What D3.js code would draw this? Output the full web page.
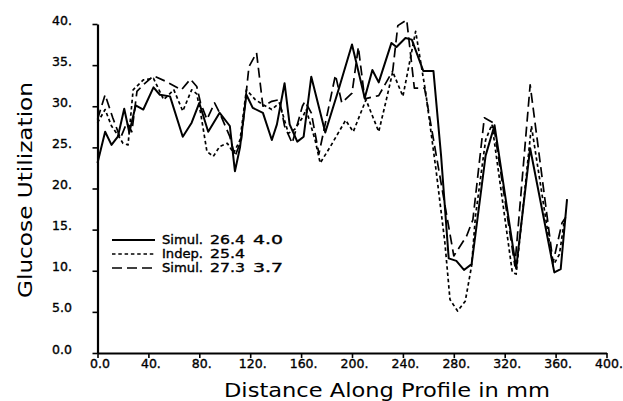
<!DOCTYPE html>
<html>
<head>
<meta charset="utf-8">
<script src="https://cdn.jsdelivr.net/npm/d3@7"></script>
<style>
  html, body { margin: 0; padding: 0; background: #fff; }
  svg { display: block; }
  text { font-family: "DejaVu Sans", sans-serif; fill: #000; }
</style>
</head>
<body>
<svg id="chart" width="623" height="401"></svg>
<script>
// ---- data ----
const xTicks = [0, 40, 80, 120, 160, 200, 240, 280, 320, 360, 400];
const xTickLabels = ["0.0", "40.", "80.", "120.", "160.", "200.", "240.", "280.", "320.", "360.", "400."];
const yTicks = [0, 5, 10, 15, 20, 25, 30, 35, 40];
const yTickLabels = ["0.0", "5.0", "10.", "15.", "20.", "25.", "30.", "35.", "40."];

const seriesNames = [["Simul.", "26.4", "4.0"], ["Indep.", "25.4"], ["Simul.", "27.3", "3.7"]];

// Simul. 26.4 4.0 (solid)
const simulAx = [0, 6, 11, 16, 21, 25, 30, 36, 44, 49, 57, 67, 74, 80, 87, 96, 104, 108, 112, 117, 122, 130, 137, 141, 147, 151, 157, 162, 168, 179, 189, 200, 210, 216, 221, 231, 235, 242, 247, 256, 264, 270, 276, 282, 288, 294, 305, 312, 329, 340, 359, 364, 369];
const simulAy = [23.1, 26.9, 25.3, 26.3, 29.7, 26.8, 30.1, 29.6, 32.3, 31.4, 31.2, 26.3, 28.0, 30.4, 26.9, 29.2, 27.6, 22.1, 25.0, 31.4, 29.8, 29.2, 25.9, 27.8, 32.8, 27.8, 25.7, 26.3, 33.6, 26.8, 31.8, 37.5, 31.0, 34.4, 32.9, 37.7, 37.2, 38.3, 38.1, 34.3, 34.3, 24.0, 11.5, 11.2, 10.1, 10.8, 24.0, 27.7, 10.3, 24.9, 9.8, 10.2, 18.7];

// Indep. 25.4 (dotted)
const indepX = [0, 6, 11, 16, 20, 24, 28, 36, 44, 52, 60, 67, 74, 78, 81, 86, 91, 96, 102, 107, 112, 117, 124, 130, 137, 143, 150, 155, 161, 164, 171, 175, 183, 195, 201, 211, 221, 227, 232, 240, 250, 258, 266, 273, 277, 283, 289, 294, 297, 305, 310, 326, 329, 341, 358, 363, 367];
const indepY = [28.0, 29.6, 27.6, 26.5, 25.5, 25.3, 32.0, 33.2, 33.4, 30.8, 32.0, 29.4, 32.0, 31.5, 29.2, 24.5, 23.9, 25.1, 25.5, 24.3, 25.9, 32.0, 30.8, 30.2, 29.6, 30.4, 26.7, 27.2, 28.6, 29.6, 25.9, 23.1, 25.1, 28.3, 26.9, 30.8, 26.9, 30.8, 34.2, 31.2, 39.1, 31.6, 22.3, 13.4, 6.5, 5.1, 6.3, 10.6, 16.6, 25.9, 27.8, 9.8, 9.6, 27.6, 10.6, 12.0, 16.2];

// Simul. 27.3 3.7 (dashed)
const simulBx = [0, 6, 12, 18, 23, 27, 31, 36, 44, 54, 66, 73, 78, 81, 86, 92, 96, 104, 108, 113, 119, 125, 130, 137, 143, 147, 153, 161, 163, 168, 174, 187, 192, 200, 205, 210, 221, 232, 236, 243, 249, 257, 280, 290, 295, 304, 311, 328, 340, 358, 365, 368];
const simulBy = [28.4, 31.4, 28.6, 26.1, 28.0, 26.9, 31.8, 32.6, 33.7, 33.0, 32.0, 33.3, 32.4, 30.4, 28.4, 30.4, 29.2, 26.3, 23.9, 25.9, 34.8, 36.5, 30.0, 30.6, 30.8, 27.6, 25.5, 30.0, 30.6, 29.2, 24.2, 33.8, 30.4, 31.6, 37.2, 30.9, 31.3, 34.3, 39.8, 40.5, 32.2, 32.2, 11.8, 14.2, 16.2, 28.6, 28.0, 10.6, 32.6, 11.0, 15.8, 16.5];

const series = [
  { name: seriesNames[0], xs: simulAx, ys: simulAy, dash: null, width: 2 },
  { name: seriesNames[1], xs: indepX, ys: indepY, dash: "3.5,2.8", width: 1.7 },
  { name: seriesNames[2], xs: simulBx, ys: simulBy, dash: "10,5", width: 1.7 }
];

// ---- layout ----
const svg = d3.select("#chart");
const x = d3.scaleLinear().domain([0, 400]).range([97.5, 606.5]);
const y = d3.scaleLinear().domain([0, 40]).range([353, 24]);

function boldish(sel) {
  sel.attr("stroke", "#000").attr("stroke-width", 0.35).attr("fill", "#000");
}

// axes
const yAxis = d3.axisLeft(y).tickValues(yTicks).tickFormat((d, i) => yTickLabels[i]).tickSize(5).tickSizeOuter(0);
const gy = svg.append("g").attr("transform", `translate(${x(0)},0)`).call(yAxis);
gy.select(".domain").attr("stroke", "#000").attr("stroke-width", 2.2);
gy.selectAll(".tick line").attr("stroke", "#000").attr("stroke-width", 1.6);
gy.selectAll(".tick text")
  .attr("x", -45.5).attr("dy", 0).attr("text-anchor", "start")
  .style("font-size", "12.5px").style("font-family", "DejaVu Sans, sans-serif").call(boldish);

const xAxis = d3.axisBottom(x).tickValues(xTicks).tickFormat((d, i) => xTickLabels[i]).tickSize(5).tickSizeOuter(0);
const gx = svg.append("g").attr("transform", `translate(0,${y(0)})`).call(xAxis);
gx.select(".domain").attr("stroke", "#000").attr("stroke-width", 2.2);
gx.selectAll(".tick line").attr("stroke", "#000").attr("stroke-width", 1.6);
gx.selectAll(".tick text")
  .attr("y", 15).attr("dy", 0).attr("dx", 2)
  .style("font-size", "12.5px").style("font-family", "DejaVu Sans, sans-serif").call(boldish);

// axis titles
svg.append("text")
  .attr("x", 224).attr("y", 396.5)
  .attr("textLength", 326).attr("lengthAdjust", "spacingAndGlyphs")
  .style("font-size", "20px")
  .text("Distance Along Profile in mm");

svg.append("text")
  .attr("transform", "translate(31.5,298) rotate(-90)")
  .attr("x", 0).attr("y", 0)
  .attr("textLength", 216).attr("lengthAdjust", "spacingAndGlyphs")
  .style("font-size", "20px")
  .text("Glucose Utilization");

// lines
const line = d3.line().x(d => x(d[0])).y(d => y(d[1]));
series.forEach(s => {
  const pts = s.xs.map((v, i) => [v, s.ys[i]]);
  svg.append("path")
    .datum(pts)
    .attr("d", line)
    .attr("fill", "none")
    .attr("stroke", "#000")
    .attr("stroke-width", s.width)
    .attr("stroke-linejoin", "round")
    .attr("stroke-dasharray", s.dash);
});

// legend
const legRowY = [240, 254, 268];
const colX = [162, 210, 253];
const colW = [41, 35, 30];
const leg = svg.append("g");
series.forEach((s, i) => {
  leg.append("line")
    .attr("x1", 112).attr("x2", 155)
    .attr("y1", legRowY[i]).attr("y2", legRowY[i])
    .attr("stroke", "#000").attr("stroke-width", s.width)
    .attr("stroke-dasharray", s.dash);
  s.name.forEach((p, j) => {
    leg.append("text")
      .attr("x", colX[j]).attr("y", legRowY[i] + 3.5)
      .attr("textLength", colW[j]).attr("lengthAdjust", "spacingAndGlyphs")
      .style("font-size", "11.8px")
      .call(boldish)
      .text(p);
  });
});
</script>
</body>
</html>
